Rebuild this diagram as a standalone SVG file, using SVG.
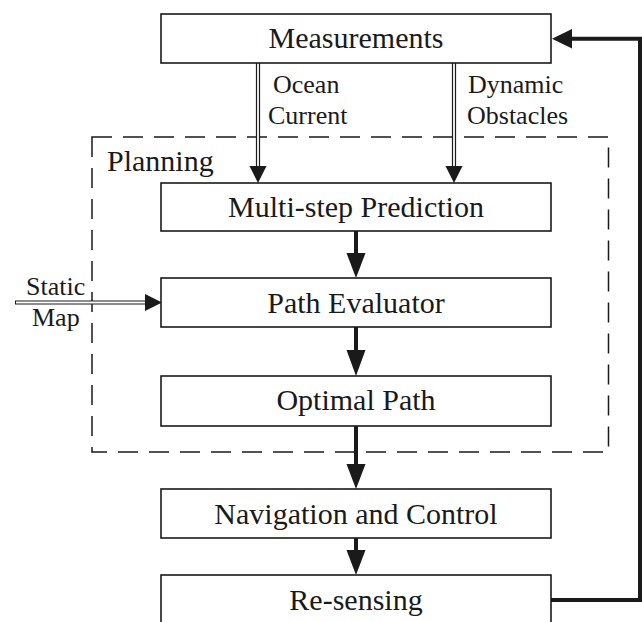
<svg xmlns="http://www.w3.org/2000/svg" width="642" height="622" viewBox="0 0 642 622">
<style>
.box{fill:#fff;stroke:#1a1a1a;stroke-width:1.6}
.lbl{font-family:"Liberation Serif","Times New Roman",serif;font-size:30px;fill:#1a1a1a;text-anchor:middle}
.sm{font-family:"Liberation Serif","Times New Roman",serif;font-size:26px;fill:#1a1a1a}
.thick{stroke:#1a1a1a;stroke-width:4;fill:none}
.dbl-out{stroke:#1a1a1a;stroke-width:4.2;fill:none}
.dbl-in{stroke:#fff;stroke-width:1.8;fill:none}
.head{fill:#1a1a1a}
</style>
<rect width="642" height="622" fill="#fff"/>
<g id="planning">
<rect x="92" y="137" width="516.5" height="315" fill="none" stroke="#1a1a1a" stroke-width="1.5" stroke-dasharray="20,11"/>
<text class="lbl" x="107" y="171" style="text-anchor:start">Planning</text>
</g>
<g id="connectors">
<path class="dbl-out" d="M258,63 V168"/>
<path class="dbl-in" d="M258,63 V168"/>
<polygon class="head" points="249.5,166 266.5,166 258,183"/>
<path class="dbl-out" d="M454,63 V168"/>
<path class="dbl-in" d="M454,63 V168"/>
<polygon class="head" points="445.5,166 462.5,166 454,183"/>
<path class="dbl-out" d="M15,302.5 H147"/>
<path class="dbl-in" d="M16,302.5 H147"/>
<polygon class="head" points="145,294 145,311 162,302.5"/>
<path class="thick" d="M356,231 V255"/>
<polygon class="head" points="346.5,253 365.5,253 356,278"/>
<path class="thick" d="M356,327 V352"/>
<polygon class="head" points="346.5,350 365.5,350 356,376"/>
<path class="thick" d="M356,426 V466"/>
<polygon class="head" points="346.5,464 365.5,464 356,489"/>
<path class="thick" d="M356,538 V552"/>
<polygon class="head" points="346.5,550 365.5,550 356,575"/>
<path class="thick" d="M551,600 H640 V38.7 H570"/>
<polygon class="head" points="572,29 572,48.5 552,38.7"/>
</g>
<g id="measurements">
<rect class="box" x="161" y="14" width="390" height="49"/>
<text class="lbl" x="356" y="48">Measurements</text>
</g>
<g id="ocean-label">
<text class="sm" x="273" y="93">Ocean</text>
<text class="sm" x="268" y="124">Current</text>
</g>
<g id="dynamic-label">
<text class="sm" x="468" y="93">Dynamic</text>
<text class="sm" x="467" y="124">Obstacles</text>
</g>
<g id="static-label">
<text class="sm" x="26" y="295">Static</text>
<text class="sm" x="32" y="326">Map</text>
</g>
<g id="multistep">
<rect class="box" x="161" y="183" width="390" height="48"/>
<text class="lbl" x="356" y="217">Multi-step Prediction</text>
</g>
<g id="evaluator">
<rect class="box" x="161" y="278" width="390" height="49"/>
<text class="lbl" x="356" y="313">Path Evaluator</text>
</g>
<g id="optimal">
<rect class="box" x="161" y="376" width="390" height="50"/>
<text class="lbl" x="356" y="410">Optimal Path</text>
</g>
<g id="navigation">
<rect class="box" x="161" y="489" width="390" height="49"/>
<text class="lbl" x="356" y="524">Navigation and Control</text>
</g>
<g id="resensing">
<rect class="box" x="161" y="575" width="390" height="60"/>
<text class="lbl" x="356" y="610">Re-sensing</text>
</g>
</svg>
